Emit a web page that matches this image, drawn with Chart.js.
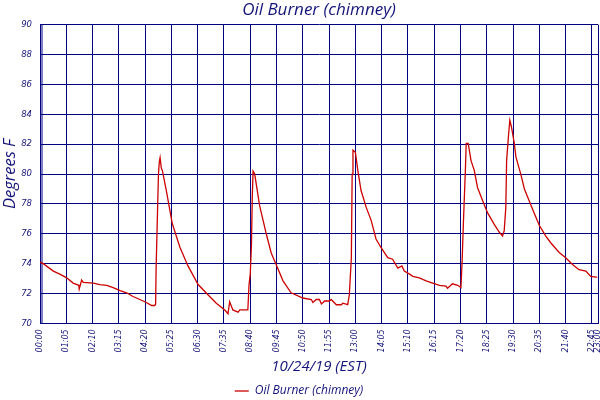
<!DOCTYPE html>
<html>
<head>
<meta charset="utf-8">
<title>Oil Burner (chimney)</title>
<script src="https://cdn.jsdelivr.net/npm/chart.js@4/dist/chart.umd.min.js"></script>
<style>
  html, body { margin: 0; padding: 0; background: #fff; }
  #wrap { width: 600px; height: 400px; }
</style>
</head>
<body>
<div id="wrap"><canvas id="chart" width="600" height="400"></canvas></div>
<script>
// minutes since midnight, 10/24/19
const sampleMinutes = [
  0, 8, 33, 49, 66, 82, 96, 97, 103, 107, 132, 148, 165, 181, 198, 214, 230, 247, 263, 276,
  284, 286, 287, 291, 293, 295, 297, 300, 303, 313, 327, 346, 366, 391, 416, 436, 457, 465, 469, 477,
  490, 494, 514, 517, 520, 523, 525, 527, 531, 543, 560, 572, 584, 601, 621, 650, 671, 675, 683, 691,
  696, 704, 716, 720, 733, 745, 749, 761, 765, 770, 772, 774, 780, 786, 794, 807, 819, 831, 844, 860,
  872, 885, 895, 901, 914, 922, 938, 955, 971, 988, 1004, 1008, 1020, 1033, 1041, 1044, 1047, 1052, 1054, 1059,
  1066, 1074, 1082, 1095, 1107, 1123, 1136, 1144, 1148, 1152, 1154, 1159, 1162, 1166, 1173, 1177, 1189, 1198, 1210, 1222,
  1235, 1251, 1263, 1284, 1300, 1317, 1333, 1350, 1362, 1375, 1378
];

const chimneyTemps = [
  74.1, 74.0, 73.5, 73.3, 73.05, 72.7, 72.55, 72.3, 72.9, 72.75, 72.7, 72.6, 72.55, 72.4, 72.2, 72.05, 71.8, 71.6, 71.4, 71.2,
  71.2, 71.3, 73.5, 77.9, 80.0, 80.8, 81.1, 80.4, 80.2, 78.8, 76.7, 75.1, 73.85, 72.6, 71.9, 71.35, 70.9, 70.65, 71.45, 70.9,
  70.75, 70.9, 70.9, 72.6, 73.3, 75.3, 78.5, 80.2, 80.0, 77.9, 75.95, 74.7, 73.95, 72.85, 72.05, 71.7, 71.6, 71.4, 71.6, 71.6,
  71.3, 71.5, 71.5, 71.6, 71.25, 71.25, 71.35, 71.25, 71.9, 74.4, 80.0, 81.6, 81.45, 80.25, 78.9, 77.75, 76.9, 75.65, 75.05, 74.4,
  74.3, 73.7, 73.85, 73.5, 73.3, 73.15, 73.05, 72.85, 72.7, 72.55, 72.5, 72.35, 72.65, 72.55, 72.4, 74.2, 76.65, 80.25, 82.05, 82.05,
  80.9, 80.25, 79.1, 78.2, 77.4, 76.65, 76.1, 75.85, 76.2, 77.75, 80.9, 82.7, 83.6, 83.15, 82.05, 81.15, 80.0, 79.0, 78.2, 77.4,
  76.55, 75.85, 75.4, 74.75, 74.4, 73.95, 73.6, 73.5, 73.15, 73.1, 73.1
];

const xTickLabels = [
  '00:00', '01:05', '02:10', '03:15', '04:20', '05:25', '06:30', '07:35', '08:40', '09:45', '10:50', '11:55',
  '13:00', '14:05', '15:10', '16:15', '17:20', '18:25', '19:30', '20:35', '21:40', '22:45', '23:00'
];

const yMin = 70;
const yMax = 90;
const yStep = 2;

const NAVY = '#000080';
const TEXT = '#14147a';
const RED = '#cc0000';

const toMinutes = s => {
  const [h, m] = s.split(':').map(Number);
  return h * 60 + m;
};
const xTickValues = xTickLabels.map(toMinutes);

// second thin line just inside the left edge, like the original frame
const leftEdge = {
  id: 'leftEdge',
  beforeDatasetsDraw(chart) {
    const { ctx, chartArea } = chart;
    ctx.save();
    ctx.strokeStyle = NAVY;
    ctx.lineWidth = 1;
    ctx.beginPath();
    ctx.moveTo(chartArea.left + 2, chartArea.top);
    ctx.lineTo(chartArea.left + 2, chartArea.bottom);
    ctx.stroke();
    ctx.restore();
  }
};

new Chart(document.getElementById('chart'), {
  type: 'line',
  data: {
    datasets: [{
      label: 'Oil Burner (chimney)',
      data: sampleMinutes.map((m, i) => ({ x: m, y: chimneyTemps[i] })),
      borderColor: RED,
      backgroundColor: RED,
      borderWidth: 1.3,
      pointRadius: 0,
      pointStyle: 'line',
      tension: 0,
      fill: false,
    }]
  },
  options: {
    responsive: false,
    animation: false,
    devicePixelRatio: 1,
    layout: { padding: { left: 0, right: 2, top: 0, bottom: -7 } },
    plugins: {
      title: {
        display: true,
        text: 'Oil Burner (chimney)',
        color: TEXT,
        fullSize: false,
        font: { family: 'Open Sans', size: 17, style: 'italic', weight: 'normal', lineHeight: 1.1 },
        padding: { top: 1, bottom: 5 },
      },
      legend: {
        position: 'bottom',
        labels: {
          color: TEXT,
          usePointStyle: true,
          pointStyleWidth: 14,
          padding: 2,
          font: { family: 'Open Sans', size: 12, style: 'italic' },
        },
      },
      tooltip: { enabled: false },
    },
    scales: {
      x: {
        type: 'linear',
        min: xTickValues[0],
        max: xTickValues[xTickValues.length - 1],
        afterBuildTicks: scale => { scale.ticks = xTickValues.map(v => ({ value: v })); },
        afterFit: scale => {
          scale.height = 59.6;
          scale.paddingLeft = 0;
          scale.paddingRight = 0;
        },
        ticks: {
          autoSkip: false,
          minRotation: 90,
          maxRotation: 90,
          padding: 6,
          color: TEXT,
          font: { family: 'DejaVu Sans', size: 8, style: 'italic' },
          callback: (v) => xTickLabels[xTickValues.indexOf(v)],
        },
        grid: { color: NAVY, lineWidth: 1, drawTicks: false },
        border: { color: NAVY, width: 1 },
        title: {
          display: true,
          text: '10/24/19 (EST)',
          color: TEXT,
          font: { family: 'Open Sans', size: 15, style: 'italic' },
          padding: { top: 0, bottom: 7.6 },
        },
      },
      y: {
        min: yMin,
        max: yMax,
        afterFit: scale => {
          scale.width = 40;
          scale.paddingTop = 0;
          scale.paddingBottom = 0;
        },
        ticks: {
          stepSize: yStep,
          padding: 8,
          color: TEXT,
          font: { family: 'DejaVu Sans', size: 8.5, style: 'italic' },
        },
        grid: { color: NAVY, lineWidth: 1, drawTicks: false },
        border: { color: NAVY, width: 1 },
        title: {
          display: true,
          text: 'Degrees F',
          color: TEXT,
          font: { family: 'Open Sans', size: 16.5, style: 'italic' },
          padding: { top: 0, bottom: 0 },
        },
      },
    },
  },
  plugins: [leftEdge],
});
</script>
</body>
</html>
